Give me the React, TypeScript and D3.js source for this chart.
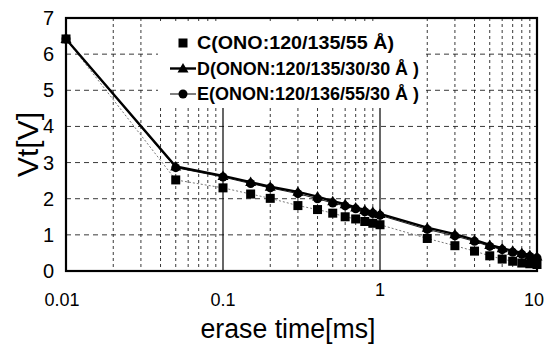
import React from 'react'
import * as d3 from 'd3'

const times = [0.01, 0.05, 0.1, 0.15, 0.2, 0.3, 0.4, 0.5, 0.6, 0.7, 0.8, 0.9, 1, 2, 3, 4, 5, 6, 7, 8, 9, 10]
const seriesC = [6.42, 2.52, 2.3, 2.13, 2.01, 1.81, 1.7, 1.6, 1.5, 1.44, 1.37, 1.32, 1.28, 0.9, 0.7, 0.55, 0.42, 0.33, 0.27, 0.22, 0.2, 0.18]
const seriesD = [6.42, 2.89, 2.63, 2.46, 2.33, 2.19, 2.06, 1.93, 1.85, 1.76, 1.69, 1.64, 1.58, 1.2, 1.02, 0.86, 0.72, 0.63, 0.56, 0.5, 0.44, 0.4]
const seriesE = [6.42, 2.86, 2.6, 2.42, 2.3, 2.14, 2.0, 1.88, 1.8, 1.72, 1.64, 1.59, 1.54, 1.15, 0.97, 0.82, 0.68, 0.59, 0.52, 0.46, 0.4, 0.36]
const legendLabels = ['C(ONO:120/135/55 Å)', 'D(ONON:120/135/30/30 Å )', 'E(ONON:120/136/55/30 Å )']
const xTicks = [0.01, 0.1, 1, 10]
const yTicks = [0, 1, 2, 3, 4, 5, 6, 7]

const layout = {width: 551, height: 346, left: 66, right: 537, top: 18, bottom: 271}

const Marker = ({kind, x, y}: {kind: string, x: number, y: number}) => {
  if (kind === 'square') return <rect x={x - 4.5} y={y - 4.5} width={9} height={9} fill="black" />
  if (kind === 'triangle') return <path d={`M${x},${y - 5.5}L${x + 5.5},${y + 4}L${x - 5.5},${y + 4}Z`} fill="black" />
  return <circle cx={x} cy={y} r={4.5} fill="black" />
}

export default function App() {
  const xScale = d3.scaleLog().domain([0.01, 10]).range([layout.left, layout.right])
  const yScale = d3.scaleLinear().domain([0, 7]).range([layout.bottom, layout.top])

  const minor: number[] = []
  ;[0.01, 0.1, 1].forEach(dec => {
    for (let k = 2; k <= 9; k++) minor.push(dec * k)
  })

  const line = (vals: number[]) => d3.line<number>()
    .x((_, i) => xScale(times[i]))
    .y(d => yScale(d))(vals) || ''

  const series = [
    {vals: seriesC, kind: 'square', stroke: '#555', width: 0.8, dash: '2,2'},
    {vals: seriesE, kind: 'circle', stroke: '#222', width: 1, dash: null},
    {vals: seriesD, kind: 'triangle', stroke: 'black', width: 2.4, dash: null},
  ]
  const legendKinds = ['square', 'triangle', 'circle']

  const legendTop = 22
  const legendBottom = 106
  const legendX = 183

  return (
    <svg width={layout.width} height={layout.height} style={{position: 'absolute', left: 0, top: 0, background: 'white'}}>
      <g id="grid">
        {minor.map(t => (
          <line key={'v' + t} x1={xScale(t)} x2={xScale(t)} y1={layout.top} y2={layout.bottom}
                stroke="#222" strokeWidth={0.9} strokeDasharray="3,3" />
        ))}
        {yTicks.slice(1, -1).map(v => (
          <line key={'h' + v} x1={layout.left} x2={layout.right} y1={yScale(v)} y2={yScale(v)}
                stroke="#222" strokeWidth={0.9} strokeDasharray="5,4" />
        ))}
      </g>
      <rect x={158} y={legendTop} width={264} height={legendBottom - legendTop} fill="white" />
      {[0.1, 1].map(t => (
        <line key={'d' + t} x1={xScale(t)} x2={xScale(t)} y1={legendBottom + 2} y2={layout.bottom} stroke="black" strokeWidth={1.2} />
      ))}
      <g id="series">
        {series.map((s, si) => (
          <path key={si} d={line(s.vals)} fill="none" stroke={s.stroke} strokeWidth={s.width}
                strokeDasharray={s.dash || undefined} />
        ))}
        {series.map((s, si) => s.vals.map((v, i) => (
          <Marker key={si + '-' + i} kind={s.kind} x={xScale(times[i])} y={yScale(v)} />
        )))}
      </g>
      <rect x={layout.left} y={layout.top} width={layout.right - layout.left} height={layout.bottom - layout.top}
            fill="none" stroke="black" strokeWidth={2.2} />
      <g id="legend" fontFamily="'Liberation Sans', Arial" fontWeight="bold" fontSize={17.5}>
        {legendLabels.map((lab, i) => {
          const y = 43 + i * 25.5
          return (
            <g key={lab}>
              {i > 0 && <line x1={legendX - 13} x2={legendX + 13} y1={y} y2={y} stroke="black" strokeWidth={i === 1 ? 2.4 : 1} />}
              <Marker kind={legendKinds[i]} x={legendX} y={y} />
              <text x={legendX + 14} y={y + 6} textLength={i === 0 ? 197 : 222} lengthAdjust="spacingAndGlyphs">{lab}</text>
            </g>
          )
        })}
      </g>
      <g id="y-axis" fontFamily="'Liberation Sans', Arial" fontSize={20} textAnchor="end">
        {yTicks.map(v => (
          <text key={v} x={54} y={yScale(v) + 7}>{v}</text>
        ))}
      </g>
      <g id="x-axis" fontFamily="'Liberation Sans', Arial" fontSize={18} textAnchor="middle">
        {xTicks.map(t => (
          <text key={t} x={xScale(t) + (t === 0.01 ? -4 : 0) + (t === 10 ? -3 : 0)} y={t === 1 ? 296 : 306}>{t}</text>
        ))}
      </g>
      <text x={288} y={338} textAnchor="middle" fontFamily="'Liberation Sans', Arial"
            fontSize={27} textLength={175} lengthAdjust="spacingAndGlyphs">erase time[ms]</text>
      <text transform={`translate(38, ${(layout.top + layout.bottom) / 2}) rotate(-90)`} textAnchor="middle"
            fontFamily="'Liberation Sans', Arial" fontSize={30}>Vt[V]</text>
    </svg>
  )
}
